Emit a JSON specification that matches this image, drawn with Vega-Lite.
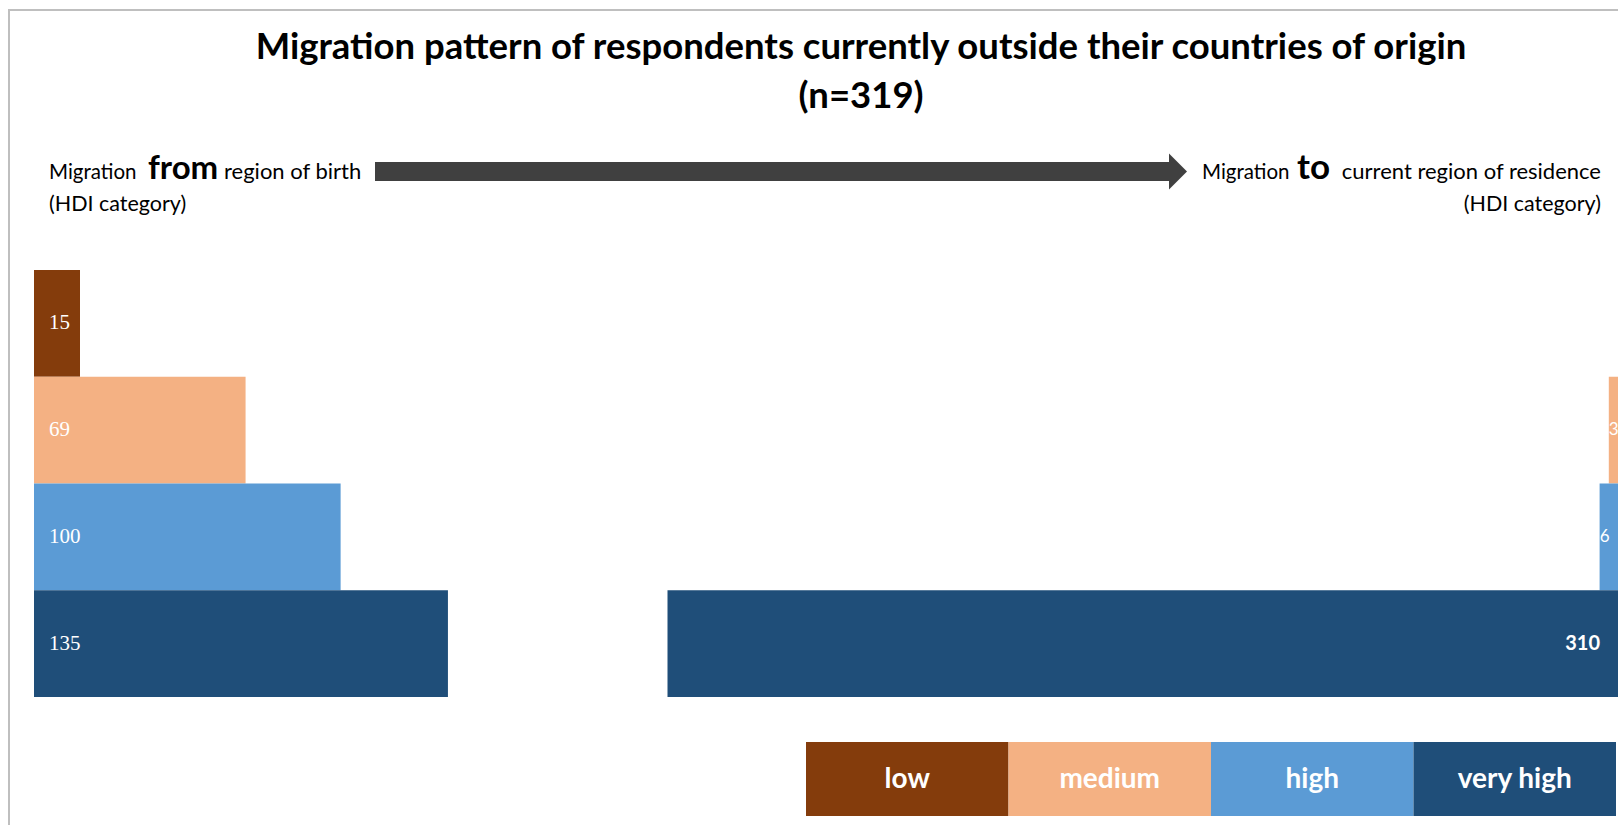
{
  "$schema": "https://vega.github.io/schema/vega-lite/v6.json",
  "width": 1618,
  "height": 825,
  "autosize": {"type": "none"},
  "padding": 0,
  "background": "white",
  "config": {"view": {"stroke": null}, "text": {"font": "Lato"}},
  "datasets": {
    "hdi": [
      {"category": "low", "birth": 15, "residence": 0},
      {"category": "medium", "birth": 69, "residence": 3},
      {"category": "high", "birth": 100, "residence": 6},
      {"category": "very high", "birth": 135, "residence": 310}
    ]
  },
  "resolve": {"scale": {"x": "independent", "y": "independent", "color": "shared"}},
  "layer": [
    {
      "data": {"values": [{}]},
      "layer": [
        {
          "mark": {"type": "rule", "color": "#BFBFBF", "strokeWidth": 2},
          "encoding": {
            "x": {"datum": 8, "type": "quantitative", "scale": {"domain": [0, 1618]}, "axis": null},
            "x2": {"datum": 1618},
            "y": {"datum": 10, "type": "quantitative", "scale": {"domain": [0, 825], "reverse": true}, "axis": null}
          }
        },
        {
          "mark": {"type": "rule", "color": "#BFBFBF", "strokeWidth": 2},
          "encoding": {
            "x": {"datum": 9, "type": "quantitative", "scale": {"domain": [0, 1618]}, "axis": null},
            "y": {"datum": 9, "type": "quantitative", "scale": {"domain": [0, 825], "reverse": true}, "axis": null},
            "y2": {"datum": 825}
          }
        },
        {
          "mark": {"type": "text", "text": "Migration pattern of respondents currently outside their countries of origin", "fontSize": 36.5, "fontWeight": "bold", "color": "black", "align": "center", "baseline": "alphabetic"},
          "encoding": {
            "x": {"datum": 861, "type": "quantitative", "scale": {"domain": [0, 1618]}, "axis": null},
            "y": {"datum": 59, "type": "quantitative", "scale": {"domain": [0, 825], "reverse": true}, "axis": null}
          }
        },
        {
          "mark": {"type": "text", "text": "(n=319)", "fontSize": 36.5, "fontWeight": "bold", "color": "black", "align": "center", "baseline": "alphabetic"},
          "encoding": {
            "x": {"datum": 861, "type": "quantitative", "scale": {"domain": [0, 1618]}, "axis": null},
            "y": {"datum": 108, "type": "quantitative", "scale": {"domain": [0, 825], "reverse": true}, "axis": null}
          }
        },
        {
          "mark": {"type": "rect", "color": "#404040"},
          "encoding": {
            "x": {"datum": 375, "type": "quantitative", "scale": {"domain": [0, 1618]}, "axis": null},
            "x2": {"datum": 1170},
            "y": {"datum": 162, "type": "quantitative", "scale": {"domain": [0, 825], "reverse": true}, "axis": null},
            "y2": {"datum": 181}
          }
        },
        {
          "mark": {"type": "point", "shape": "M0,-1L1,0L0,1Z", "filled": true, "opacity": 1, "color": "#404040", "size": 1296},
          "encoding": {
            "x": {"datum": 1169, "type": "quantitative", "scale": {"domain": [0, 1618]}, "axis": null},
            "y": {"datum": 171.5, "type": "quantitative", "scale": {"domain": [0, 825], "reverse": true}, "axis": null}
          }
        },
        {
          "mark": {"type": "text", "text": "Migration", "fontSize": 20.5, "color": "black", "align": "left", "baseline": "alphabetic"},
          "encoding": {
            "x": {"datum": 49, "type": "quantitative", "scale": {"domain": [0, 1618]}, "axis": null},
            "y": {"datum": 179, "type": "quantitative", "scale": {"domain": [0, 825], "reverse": true}, "axis": null}
          }
        },
        {
          "mark": {"type": "text", "text": "from", "fontSize": 33, "fontWeight": "bold", "color": "black", "align": "left", "baseline": "alphabetic"},
          "encoding": {
            "x": {"datum": 148, "type": "quantitative", "scale": {"domain": [0, 1618]}, "axis": null},
            "y": {"datum": 179, "type": "quantitative", "scale": {"domain": [0, 825], "reverse": true}, "axis": null}
          }
        },
        {
          "mark": {"type": "text", "text": "region of birth", "fontSize": 22, "color": "black", "align": "left", "baseline": "alphabetic"},
          "encoding": {
            "x": {"datum": 224, "type": "quantitative", "scale": {"domain": [0, 1618]}, "axis": null},
            "y": {"datum": 179, "type": "quantitative", "scale": {"domain": [0, 825], "reverse": true}, "axis": null}
          }
        },
        {
          "mark": {"type": "text", "text": "(HDI category)", "fontSize": 21.5, "color": "black", "align": "left", "baseline": "alphabetic"},
          "encoding": {
            "x": {"datum": 49, "type": "quantitative", "scale": {"domain": [0, 1618]}, "axis": null},
            "y": {"datum": 211, "type": "quantitative", "scale": {"domain": [0, 825], "reverse": true}, "axis": null}
          }
        },
        {
          "mark": {"type": "text", "text": "Migration", "fontSize": 20.5, "color": "black", "align": "left", "baseline": "alphabetic"},
          "encoding": {
            "x": {"datum": 1202, "type": "quantitative", "scale": {"domain": [0, 1618]}, "axis": null},
            "y": {"datum": 179, "type": "quantitative", "scale": {"domain": [0, 825], "reverse": true}, "axis": null}
          }
        },
        {
          "mark": {"type": "text", "text": "to", "fontSize": 35, "fontWeight": "bold", "color": "black", "align": "left", "baseline": "alphabetic"},
          "encoding": {
            "x": {"datum": 1297, "type": "quantitative", "scale": {"domain": [0, 1618]}, "axis": null},
            "y": {"datum": 179, "type": "quantitative", "scale": {"domain": [0, 825], "reverse": true}, "axis": null}
          }
        },
        {
          "mark": {"type": "text", "text": "current region of residence", "fontSize": 22, "color": "black", "align": "right", "baseline": "alphabetic"},
          "encoding": {
            "x": {"datum": 1601, "type": "quantitative", "scale": {"domain": [0, 1618]}, "axis": null},
            "y": {"datum": 179, "type": "quantitative", "scale": {"domain": [0, 825], "reverse": true}, "axis": null}
          }
        },
        {
          "mark": {"type": "text", "text": "(HDI category)", "fontSize": 21.5, "color": "black", "align": "right", "baseline": "alphabetic"},
          "encoding": {
            "x": {"datum": 1601, "type": "quantitative", "scale": {"domain": [0, 1618]}, "axis": null},
            "y": {"datum": 211, "type": "quantitative", "scale": {"domain": [0, 825], "reverse": true}, "axis": null}
          }
        }
      ]
    },
    {
      "data": {"name": "hdi"},
      "layer": [
        {
          "mark": {"type": "bar"},
          "encoding": {
            "x": {"field": "birth", "type": "quantitative", "scale": {"domain": [-11.09, 516.6]}, "axis": null},
            "y": {"field": "category", "type": "nominal", "sort": ["low", "medium", "high", "very high"], "scale": {"domain": ["low", "medium", "high", "very high"], "paddingInner": 0, "paddingOuter": 0, "range": [270, 697]}, "axis": null},
            "color": {"field": "category", "type": "nominal", "scale": {"domain": ["low", "medium", "high", "very high"], "range": ["#843C0C", "#F4B183", "#5B9BD5", "#1F4E79"]}, "legend": null}
          }
        },
        {
          "mark": {"type": "text", "font": "Liberation Serif", "fontSize": 21, "color": "white", "align": "left", "baseline": "middle", "dx": 15},
          "encoding": {
            "x": {"datum": 0, "type": "quantitative", "scale": {"domain": [-11.09, 516.6]}, "axis": null},
            "y": {"field": "category", "type": "nominal", "scale": {"domain": ["low", "medium", "high", "very high"], "paddingInner": 0, "paddingOuter": 0, "range": [270, 697]}, "axis": null},
            "text": {"field": "birth", "type": "quantitative"}
          }
        }
      ]
    },
    {
      "data": {"name": "hdi"},
      "transform": [{"filter": "datum.residence > 0"}],
      "layer": [
        {
          "mark": {"type": "bar"},
          "encoding": {
            "x": {"field": "residence", "type": "quantitative", "scale": {"domain": [0, 527.7], "reverse": true}, "axis": null},
            "y": {"field": "category", "type": "nominal", "scale": {"domain": ["low", "medium", "high", "very high"], "paddingInner": 0, "paddingOuter": 0, "range": [270, 697]}, "axis": null},
            "color": {"field": "category", "type": "nominal", "scale": {"domain": ["low", "medium", "high", "very high"], "range": ["#843C0C", "#F4B183", "#5B9BD5", "#1F4E79"]}, "legend": null}
          }
        },
        {
          "transform": [{"filter": "datum.residence >= 100"}],
          "mark": {"type": "text", "fontSize": 20, "fontWeight": "bold", "color": "white", "align": "right", "baseline": "middle", "dx": -18},
          "encoding": {
            "x": {"datum": 0, "type": "quantitative", "scale": {"domain": [0, 527.7], "reverse": true}, "axis": null},
            "y": {"field": "category", "type": "nominal", "scale": {"domain": ["low", "medium", "high", "very high"], "paddingInner": 0, "paddingOuter": 0, "range": [270, 697]}, "axis": null},
            "text": {"field": "residence", "type": "quantitative"}
          }
        },
        {
          "transform": [{"filter": "datum.residence < 100"}],
          "mark": {"type": "text", "fontSize": 17, "color": "white", "align": "center", "baseline": "middle", "dx": 5},
          "encoding": {
            "x": {"field": "residence", "type": "quantitative", "scale": {"domain": [0, 527.7], "reverse": true}, "axis": null},
            "y": {"field": "category", "type": "nominal", "scale": {"domain": ["low", "medium", "high", "very high"], "paddingInner": 0, "paddingOuter": 0, "range": [270, 697]}, "axis": null},
            "text": {"field": "residence", "type": "quantitative"}
          }
        }
      ]
    },
    {
      "data": {"name": "hdi"},
      "layer": [
        {
          "mark": {"type": "rect"},
          "encoding": {
            "x": {"field": "category", "type": "nominal", "scale": {"domain": ["low", "medium", "high", "very high"], "paddingInner": 0, "paddingOuter": 0, "range": [806, 1616]}, "axis": null},
            "y": {"datum": 742, "type": "quantitative", "scale": {"domain": [0, 825], "reverse": true}, "axis": null},
            "y2": {"datum": 816},
            "color": {"field": "category", "type": "nominal", "scale": {"domain": ["low", "medium", "high", "very high"], "range": ["#843C0C", "#F4B183", "#5B9BD5", "#1F4E79"]}, "legend": null}
          }
        },
        {
          "mark": {"type": "text", "fontSize": 28, "fontWeight": "bold", "color": "white", "align": "center", "baseline": "middle"},
          "encoding": {
            "x": {"field": "category", "type": "nominal", "scale": {"domain": ["low", "medium", "high", "very high"], "paddingInner": 0, "paddingOuter": 0, "range": [806, 1616]}, "axis": null},
            "y": {"datum": 780, "type": "quantitative", "scale": {"domain": [0, 825], "reverse": true}, "axis": null},
            "text": {"field": "category", "type": "nominal"}
          }
        }
      ]
    }
  ]
}
